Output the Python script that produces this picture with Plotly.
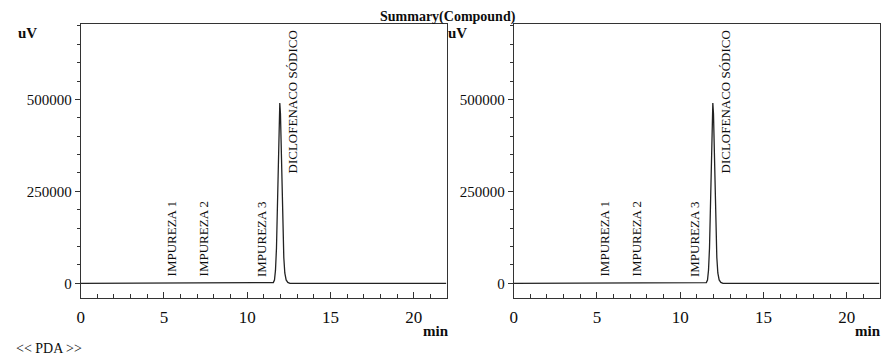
import plotly.graph_objects as go

# ---- data ----
time_min = [0.0, 11.47, 11.57, 11.64, 11.70, 11.76, 11.81, 11.86, 11.90, 11.93, 11.96,
            12.00, 12.04, 12.09, 12.14, 12.20, 12.26, 12.34, 12.44, 12.57, 21.95]
signal_uv = [0, 0, 2000, 9000, 35000, 95000, 190000, 320000, 430000, 480000, 490000,
             460000, 380000, 260000, 150000, 70000, 28000, 9000, 2500, 0, 0]

peak_names = ["IMPUREZA 1", "IMPUREZA 2", "IMPUREZA 3", "DICLOFENACO SÓDICO"]
label_times = [5.43, 7.35, 10.87, 12.72]
label_levels = [12000, 12000, 12000, 293000]

y_tickvals = [0, 250000, 500000]
y_ticktext = ["0", "250000", "500000"]
x_tickvals = [0, 5, 10, 15, 20]

W, H = 881, 358
FONT = "Liberation Serif"
INK = "#0d0d0d"

fig = go.Figure()

panels = [("x", "y"), ("x2", "y2")]

for xa, ya in panels:
    fig.add_trace(go.Scatter(x=time_min, y=signal_uv, mode="lines",
                             line=dict(color="#222222", width=1.3),
                             xaxis=xa, yaxis=ya, showlegend=False, hoverinfo="skip"))
    for name, t, lv in zip(peak_names, label_times, label_levels):
        fig.add_annotation(x=t, y=lv, xref=xa, yref=ya, text=name, textangle=-90,
                           showarrow=False, xanchor="center", yanchor="bottom",
                           font=dict(family=FONT, size=13, color=INK))

axis_common_x = dict(range=[0, 22], tickvals=x_tickvals, ticks="inside", ticklen=6,
                     tickcolor="#333", showline=True, linecolor="#333", linewidth=1,
                     mirror=True, showgrid=False, zeroline=False, ticklabelstandoff=4,
                     tickfont=dict(family=FONT, size=17, color=INK),
                     minor=dict(dtick=1, ticks="inside", ticklen=4, tickcolor="#333"))
axis_common_y = dict(range=[-40000, 705000], tickvals=y_tickvals, ticktext=y_ticktext,
                     ticks="outside", ticklen=5, tickcolor="#333", showline=True,
                     linecolor="#333", linewidth=1, mirror=True, showgrid=False,
                     zeroline=False, domain=[0, 1],
                     tickfont=dict(family=FONT, size=15, color=INK),
                     minor=dict(dtick=50000, ticks="outside", ticklen=3, tickcolor="#333"))

fig.update_layout(
    width=W, height=H,
    margin=dict(l=0, r=0, t=24, b=60),
    paper_bgcolor="white", plot_bgcolor="white",
    xaxis=dict(axis_common_x, domain=[77 / W, 445 / W], anchor="y"),
    yaxis=dict(axis_common_y, anchor="x"),
    xaxis2=dict(axis_common_x, domain=[512 / W, 880 / W], anchor="y2"),
    yaxis2=dict(axis_common_y, anchor="x2"),
)

# convert pixel y (from top of page) into paper coords of plot area
def py2paper(py):
    return (H - 60 - py) / (H - 84)

def add_px_text(text, px, py, size, bold=False, xanchor="center"):
    fig.add_annotation(x=px / W, y=py2paper(py), xref="paper", yref="paper",
                       text=f"<b>{text}</b>" if bold else text, showarrow=False,
                       xanchor=xanchor, yanchor="middle",
                       font=dict(family=FONT, size=size, color=INK))

add_px_text("Summary(Compound)", 446, 17, 14, bold=True)
add_px_text("uV", 24, 33, 15, bold=True)
add_px_text("uV", 456, 33, 15, bold=True)
add_px_text("min", 434, 331, 15, bold=True)
add_px_text("min", 868, 331, 15, bold=True)
add_px_text("&lt;&lt; PDA &gt;&gt;", 10, 348, 14, xanchor="left")

fig.write_html("out.html")
